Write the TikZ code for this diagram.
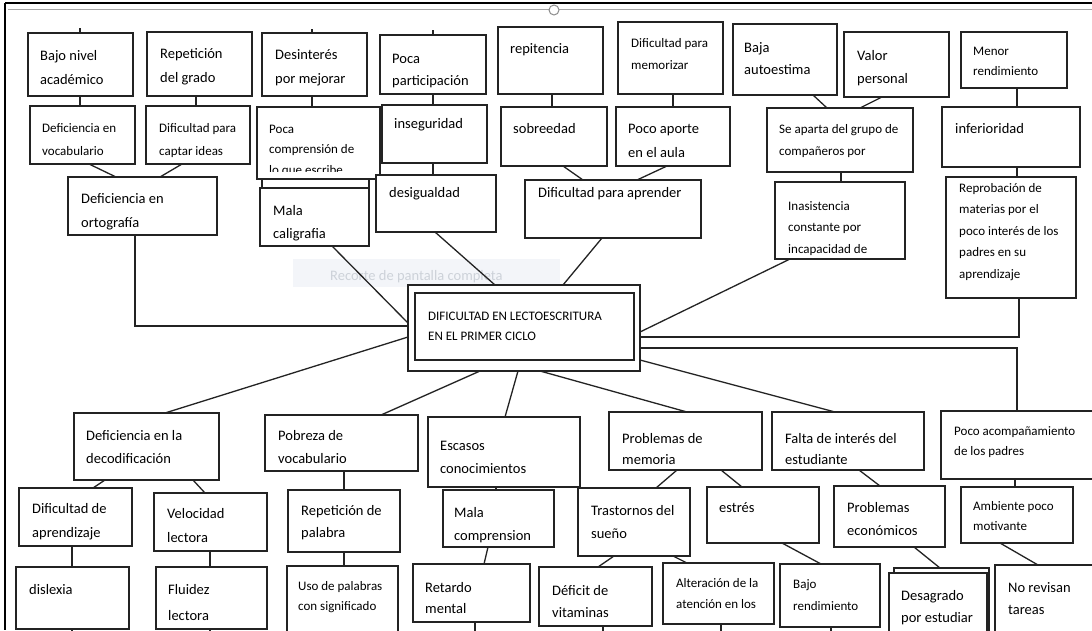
\documentclass[tikz,border=0pt]{standalone}
\usepackage{fontspec}
\setmainfont{Carlito}
\usetikzlibrary{calc}
\definecolor{ln}{RGB}{35,35,35}
\definecolor{snipbg}{RGB}{243,245,249}
\definecolor{sniptx}{RGB}{205,210,217}
\tikzset{
  bx/.style={draw=ln, fill=white, line width=1.2pt, anchor=north west, inner sep=0pt, outer sep=0pt},
  cn/.style={draw=ln, line width=1.3pt},
}
\newcommand\bx[5]{\node[bx, minimum width={(#4-#2)*1pt}, minimum height={(#5-#3)*1pt}] (#1) at (#2,#3) {};}
\newcommand\tx[6]{\node[anchor=base west, inner sep=0pt, text=black, font=\fontsize{#4pt}{#5pt}\selectfont] (#1) at (#2,#3) {\begin{tabular}[t]{@{}l@{}}#6\end{tabular}};}
\begin{document}
\begin{tikzpicture}[x=1pt,y=-1pt]
\useasboundingbox (0,0) rectangle (1092,630);
\clip (0,0) rectangle (1092,630);
\fill[white] (0,0) rectangle (1092,630);
% snipping overlay
\fill[snipbg] (293,259) rectangle (560,287);
\node[anchor=base west, inner sep=0pt, text=sniptx, font=\fontsize{14.5pt}{17pt}\selectfont] (snip) at (330,280) {Recorte de pantalla completa};

% ---------- boxes ----------
% top row
\bx{b1}{28}{33}{133}{96}
\bx{b2}{147}{32}{252}{96}
\bx{b3}{262}{33}{367}{96}
\bx{b4}{380}{35}{486}{94}
\bx{b5}{498}{27}{603}{94}
\bx{b6}{618}{22}{723}{94}
\bx{b7}{733}{24}{837}{95}
\bx{b8}{844}{32}{949}{97}
\bx{b9}{961}{32}{1067}{88}
% second row
\bx{c1}{30}{106}{135}{164}
\bx{c2}{146}{106}{250}{164}
\bx{d2b}{262}{172}{369}{246}
\bx{c3}{257}{107}{380}{179}
\bx{c4}{382}{105}{487}{163}
\bx{c5}{501}{107}{607}{166}
\bx{c6}{616}{107}{730}{166}
\bx{c7}{767}{108}{913}{172}
\bx{c8}{942}{107}{1080}{167}
% third row
\bx{d1}{68}{177}{217}{235}
\bx{d2}{260}{188}{369}{246}
\bx{d3}{376}{175}{496}{232}
\bx{d4}{525}{180}{701}{238}
\bx{d5}{775}{182}{905}{259}
\bx{d6}{946}{177}{1076}{298}
% central
\bx{cen}{408}{285}{640}{371}
\bx{ceni}{415}{293}{634}{360}
% lower rows
\bx{e1}{74}{413}{219}{480}
\bx{e2}{265}{415}{418}{471}
\bx{e3}{428}{417}{580}{487}
\bx{e4}{609}{412}{762}{470}
\bx{e5}{772}{412}{924}{470}
\bx{e6}{941}{411}{1096}{479}
\bx{f1}{19}{488}{132}{546}
\bx{f2}{154}{493}{267}{551}
\bx{f3}{288}{490}{400}{552}
\bx{f4}{443}{490}{554}{547}
\bx{f5}{578}{488}{690}{556}
\bx{f6}{707}{487}{819}{543}
\bx{f7}{834}{486}{945}{547}
\bx{f8}{961}{487}{1073}{543}
\bx{g1}{16}{567}{129}{629}
\bx{g2}{156}{567}{267}{629}
\bx{g3}{287}{566}{398}{640}
\bx{g4}{413}{564}{530}{622}
\bx{g5}{539}{567}{652}{626}
\bx{g6}{663}{563}{774}{624}
\bx{g7}{780}{564}{880}{627}
\bx{g8b}{894}{568}{989}{640}
\bx{g8}{889}{573}{987}{640}
\bx{g9}{995}{565}{1096}{640}

% ---------- connectors ----------
% top stubs
\draw[cn] ([xshift=52pt]b1.north west) -- ++(0,-5);
\draw[cn] ([xshift=50pt]b3.north west) -- ++(0,-4);
\draw[cn] (b4.north) -- ++(0,-5);
% top -> second row
\draw[cn] ([xshift=52pt]b1.south west) -- ([xshift=52pt]b1.south west |- c1.north);
\draw[cn] ([xshift=49pt]b2.south west) -- ([xshift=49pt]b2.south west |- c2.north);
\draw[cn] ([xshift=50pt]b3.south west) -- ([xshift=50pt]b3.south west |- c3.north);
\draw[cn] (b4.south) -- (b4.south |- c4.north);
\draw[cn] ([xshift=54pt]b5.south west) -- ([xshift=54pt]b5.south west |- c5.north);
\draw[cn] ([xshift=55pt]b6.south west) -- ([xshift=55pt]b6.south west |- c6.north);
\draw[cn] ([xshift=80pt]b7.south west) -- ([xshift=60pt]c7.north west);
\draw[cn] ([xshift=38pt]b8.south west) -- ([xshift=93pt]c7.north west);
\draw[cn] ([xshift=56pt]b9.south west) -- ([xshift=56pt]b9.south west |- c8.north);
% second -> third row
\draw[cn] ([xshift=59pt]c1.south west) -- ([xshift=48pt]d1.north west);
\draw[cn] ([xshift=36pt]c2.south west) -- ([xshift=92pt]d1.north west);
\draw[cn] ([xshift=51pt]c4.south west) -- ([xshift=51pt]c4.south west |- d3.north);
\draw[cn] ([xshift=62pt]c5.south west) -- ([xshift=58pt]d4.north west);
\draw[cn] ([xshift=51pt]c6.south west) -- ([xshift=112pt]d4.north west);
\draw[cn] ([xshift=74pt]c7.south west) -- ([xshift=74pt]c7.south west |- d5.north);
\draw[cn] ([xshift=75pt]c8.south west) -- ([xshift=75pt]c8.south west |- d6.north);
% third row -> central
\draw[cn] ([xshift=67pt]d1.south west) |- ([yshift=-41pt]cen.north west);
\draw[cn] ([xshift=72pt]d2.south west) -- ([yshift=-38pt]cen.north west);
\draw[cn] ([xshift=59pt]d3.south west) -- ([xshift=87pt]cen.north west);
\draw[cn] ([xshift=77pt]d4.south west) -- ([xshift=155pt]cen.north west);
\draw[cn] ([xshift=15pt]d5.south west) -- ([yshift=-47pt]cen.north east);
\draw[cn] ([xshift=73pt]d6.south west) |- ([yshift=-52pt]cen.north east);
% central -> lower rows
\draw[cn] ([yshift=-63pt]cen.north east) -| ([xshift=76pt]e6.north west);
\draw[cn] ([yshift=-52pt]cen.north west) -- ([xshift=91pt]e1.north west);
\draw[cn] ([xshift=72pt]cen.south west) -- ([xshift=116pt]e2.north west);
\draw[cn] ([xshift=110pt]cen.south west) -- ([xshift=77pt]e3.north west);
\draw[cn] ([xshift=132pt]cen.south west) -- ([xshift=78pt]e4.north west);
\draw[cn] ([yshift=11pt]cen.south east) -- ([xshift=63pt]e5.north west);
% e -> f
\draw[cn] ([xshift=31pt]e1.south west) -- ([xshift=74pt]f1.north west);
\draw[cn] ([xshift=119pt]e1.south west) -- ([xshift=51pt]f2.north west);
\draw[cn] ([xshift=79pt]e2.south west) -- ([xshift=79pt]e2.south west |- f3.north);
\draw[cn] ([xshift=68pt]e3.south west) -- ([xshift=68pt]e3.south west |- f4.north);
\draw[cn] ([xshift=68pt]e4.south west) -- ([xshift=78pt]f5.north west);
\draw[cn] ([xshift=112pt]e4.south west) -- ([xshift=35pt]f6.north west);
\draw[cn] ([xshift=87pt]e5.south west) -- ([xshift=46pt]f7.north west);
\draw[cn] ([xshift=74pt]e6.south west) -- ([xshift=74pt]e6.south west |- f8.north);
% f -> g
\draw[cn] ([xshift=53pt]f1.south west) -- ([xshift=53pt]f1.south west |- g1.north);
\draw[cn] ([xshift=56pt]f2.south west) -- ([xshift=56pt]f2.south west |- g2.north);
\draw[cn] ([xshift=56pt]f3.south west) -- ([xshift=56pt]f3.south west |- g3.north);
\draw[cn] ([xshift=45pt]f4.south west) -- ([xshift=71pt]g4.north west);
\draw[cn] ([xshift=36pt]f5.south west) -- ([xshift=59pt]g5.north west);
\draw[cn] ([xshift=95pt]f5.south west) -- ([xshift=24pt]g6.north west);
\draw[cn] ([xshift=75pt]f6.south west) -- ([xshift=41pt]g7.north west);
\draw[cn] ([xshift=80pt]f7.south west) -- ([xshift=46pt]g8b.north west);
\draw[cn] ([xshift=39pt]f8.south west) -- ([xshift=43pt]g9.north west);
% bottom stubs leaving the picture
\draw[cn] ([xshift=56pt]g1.south west) -- ++(0,10);
\draw[cn] ([xshift=54pt]g2.south west) -- ++(0,10);
\draw[cn] ([xshift=62pt]g4.south west) -- ++(0,10);
\draw[cn] ([xshift=64pt]g5.south west) -- ++(0,10);
\draw[cn] ([xshift=58pt]g6.south west) -- ++(0,10);
\draw[cn] ([xshift=51pt]g7.south west) -- ++(0,10);

% ---------- texts ----------
\tx{t1}{40}{60}{14.5}{24}{Bajo nivel\\académico}
\tx{t2}{160}{58}{14.5}{24}{Repetición\\del grado}
\tx{t3}{275}{59}{14.5}{24}{Desinterés\\por mejorar}
\tx{t4}{392}{63}{14.5}{22}{Poca\\participación}
\tx{t5}{510}{53}{14.5}{24}{repitencia}
\tx{t6}{631}{47}{13}{22}{Dificultad para\\memorizar}
\tx{t7}{744}{52}{14.5}{22}{Baja\\autoestima}
\tx{t8}{857}{60}{14.5}{23}{Valor\\personal}
\tx{t9}{973}{55}{13}{20}{Menor\\rendimiento}
\tx{u1}{42}{132}{13}{23}{Deficiencia en\\vocabulario}
\tx{u2}{159}{132}{13}{23}{Dificultad para\\captar ideas}
\begin{scope}
\clip (c3.north west) rectangle ([yshift=8pt]c3.south east);
\tx{u3}{269}{133}{13}{20.5}{Poca\\comprensión de\\lo que escribe}
\end{scope}
\tx{u4}{394}{128}{14.5}{24}{inseguridad}
\tx{u5}{513}{133}{14.5}{24}{sobreedad}
\tx{u6}{628}{133}{14.5}{24}{Poco aporte\\en el aula}
\tx{u7}{779}{133}{13}{22}{Se aparta del grupo de\\compañeros por}
\tx{u8}{955}{133}{14.5}{24}{inferioridad}
\tx{v1}{81}{203}{14.5}{24}{Deficiencia en\\ortografía}
\tx{v2}{273}{215}{14.5}{23}{Mala\\caligrafia}
\tx{v3}{389}{197}{14.5}{24}{desigualdad}
\tx{v4}{538}{197}{14.5}{24}{Dificultad para aprender}
\tx{v5}{788}{210}{13}{21.5}{Inasistencia\\constante por\\incapacidad de}
\tx{v6}{959}{192}{13}{21.6}{Reprobación de\\materias por el\\poco interés de los\\padres en su\\aprendizaje}
\tx{tc}{428}{320}{13}{20}{DIFICULTAD EN LECTOESCRITURA\\EN EL PRIMER CICLO}
\tx{w1}{86}{440}{14.5}{23}{Deficiencia en la\\decodificación}
\tx{w2}{278}{440}{14.5}{23}{Pobreza de\\vocabulario}
\tx{w3}{440}{450}{14.5}{23}{Escasos\\conocimientos}
\tx{w4}{622}{443}{14.5}{21}{Problemas de\\memoria}
\tx{w5}{785}{443}{14.5}{21}{Falta de interés del\\estudiante}
\tx{w6}{954}{435}{13}{20}{Poco acompañamiento\\de los padres}
\tx{x1}{32}{513}{14.5}{24}{Dificultad de\\aprendizaje}
\tx{x2}{167}{518}{14.5}{24}{Velocidad\\lectora}
\tx{x3}{301}{515}{14.5}{22}{Repetición de\\palabra}
\tx{x4}{454}{517}{14.5}{23}{Mala\\comprension}
\tx{x5}{591}{515}{14.5}{23}{Trastornos del\\sueño}
\tx{x6}{719}{512}{14.5}{23}{estrés}
\tx{x7}{847}{512}{14.5}{23}{Problemas\\económicos}
\tx{x8}{973}{510}{13}{20}{Ambiente poco\\motivante}
\tx{y1}{29}{594}{14.5}{24}{dislexia}
\tx{y2}{168}{594}{14.5}{26}{Fluidez\\lectora}
\tx{y3}{298}{590}{13}{20}{Uso de palabras\\con significado}
\tx{y4}{425}{592}{14.5}{21}{Retardo\\mental}
\tx{y5}{552}{595}{14.5}{22}{Déficit de\\vitaminas}
\tx{y6}{676}{587}{13}{21}{Alteración de la\\atención en los}
\tx{y7}{793}{588}{13}{22}{Bajo\\rendimiento}
\tx{y8}{901}{600}{14.5}{22}{Desagrado\\por estudiar}
\tx{y9}{1008}{592}{14.5}{22}{No revisan\\tareas}

% ---------- window frame ----------
\draw[line width=2pt, black] (5,3) -- (1092,3);
\draw[line width=2pt, black] (5,3) -- (5,630);
\draw[line width=1.8pt, black!35] (8,9.5) -- (1092,9.5);
\node[circle, draw=black!45, fill=white, line width=1pt, minimum size=10pt, inner sep=0pt] (handle) at (554,10) {};
\end{tikzpicture}
\end{document}
